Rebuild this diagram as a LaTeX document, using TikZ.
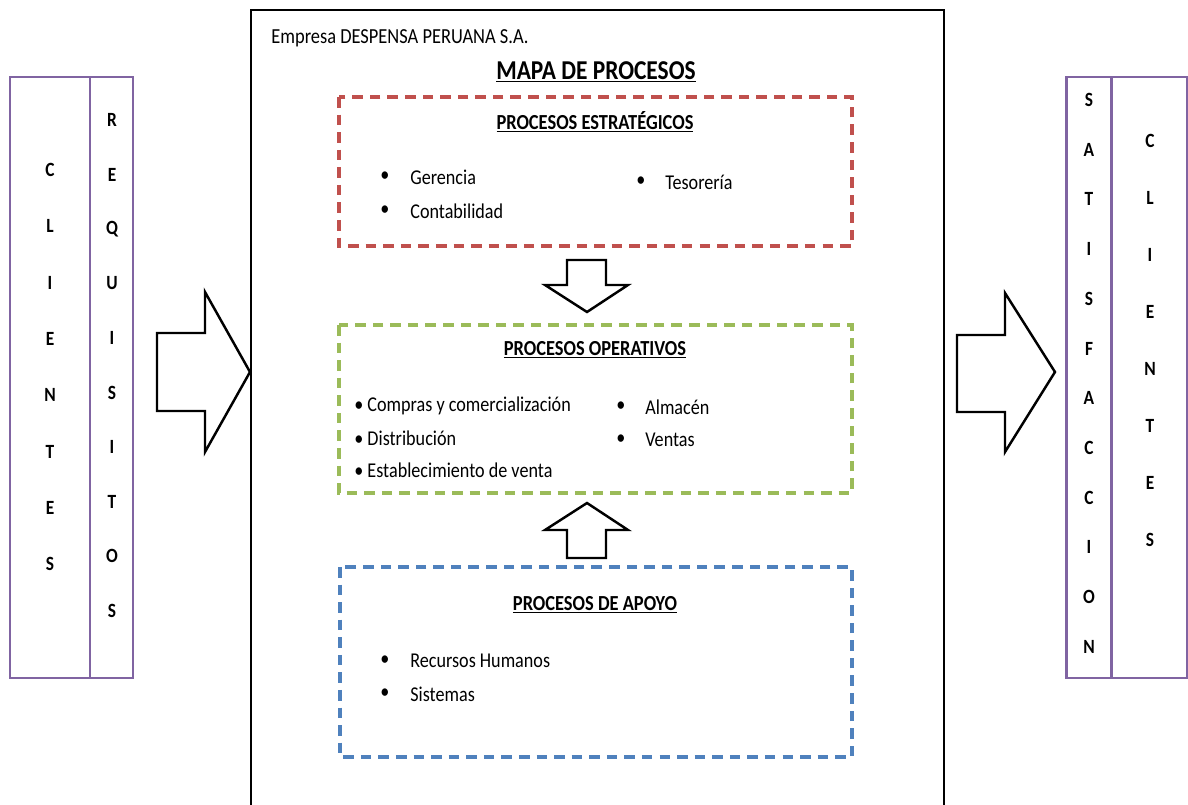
\documentclass[tikz,border=0pt]{standalone}
\usepackage{fontspec}
\setmainfont{Carlito}[FakeStretch=0.86]
\usetikzlibrary{calc}

\definecolor{lila}{HTML}{8064A2}
\definecolor{rojo}{HTML}{C0504D}
\definecolor{verde}{HTML}{9BBB59}
\definecolor{azul}{HTML}{4F81BD}

\tikzset{
	columna/.style={draw=lila, line width=1.7pt},
	letra/.style={font=\bfseries\fontsize{11.5}{13}\selectfont, inner sep=0pt},
	caja/.style={line width=2pt, dash pattern=on 6pt off 4pt},
	titulo/.style={font=\bfseries\fontsize{12.2}{15}\selectfont, inner sep=0pt},
	item/.style={anchor=west, font=\fontsize{12}{14}\selectfont, inner sep=0pt},
	punto/.style={font=\fontsize{12}{14}\selectfont, inner sep=0pt},
	flecha/.style={draw=black, line width=1.4pt, fill=white, line join=miter}
}

\begin{document}
\begin{tikzpicture}[x=0.02cm, y=-0.02cm]
			%%%%% START %%%%%
			\useasboundingbox (0, 0) rectangle (1188, 805);
			\clip (0, 0) rectangle (1188, 805);
			
			% columnas izquierda
			\draw[columna] (10, 77) rectangle (133, 678);
			\draw[columna] (90, 77) -- (90, 678);
			\foreach \l [count=\i] in {C,L,I,E,N,T,E,S}
				\node[letra] (cliI\i) at (50, {170+56.3*(\i-1)}) {\l};
			\foreach \l [count=\i] in {R,E,Q,U,I,S,I,T,O,S}
				\node[letra] (req\i) at (112, {120+54.5*(\i-1)}) {\l};
			
			% flecha entrada
			\draw[flecha] (157, 333) -- (205, 333) -- (205, 292) -- (250, 372)
				-- (205, 452) -- (205, 411) -- (157, 411) -- cycle;
			
			% marco principal
			\draw[line width=1.6pt] (251, 808) -- (251, 10) -- (944, 10) -- (944, 808);
			\node[anchor=west, inner sep=0pt, font=\fontsize{12.2}{14}\selectfont] (empresa) at (271, 38) {Empresa DESPENSA PERUANA S.A.};
			\node[inner sep=0pt, font=\bfseries\fontsize{15.5}{18}\selectfont] (mapa) at (596, 72) {\underline{MAPA DE PROCESOS}};
			
			% estrategicos
			\draw[caja, draw=rojo] (339, 97) rectangle (852, 246);
			\node[titulo] (estr) at (595, 122) {\underline{PROCESOS ESTRATÉGICOS}};
			\node[punto] (b1) at (385, 177) {\textbullet};
			\node[item] (ger) at (410, 177) {Gerencia};
			\node[punto] (b2) at (385, 211) {\textbullet};
			\node[item] (cont) at (410, 211) {Contabilidad};
			\node[punto] (b3) at (641, 182) {\textbullet};
			\node[item] (teso) at (665, 182) {Tesorería};
			
			\draw[flecha] (567, 260) -- (606, 260) -- (606, 285) -- (628, 285)
				-- (587, 312) -- (545, 285) -- (567, 285) -- cycle;
			
			% operativos
			\draw[caja, draw=verde] (339, 325) rectangle (852, 493);
			\node[titulo] (oper) at (595, 350) {\underline{PROCESOS OPERATIVOS}};
			\node[item] (comp) at (354, 406) {\textbullet\ Compras y comercialización};
			\node[item] (dist) at (354, 438) {\textbullet\ Distribución};
			\node[item] (esta) at (354, 470) {\textbullet\ Establecimiento de venta};
			\node[punto] (b4) at (621, 407) {\textbullet};
			\node[item] (alm) at (645, 407) {Almacén};
			\node[punto] (b5) at (621, 440) {\textbullet};
			\node[item] (vent) at (645, 440) {Ventas};
			
			\draw[flecha] (567, 558) -- (606, 558) -- (606, 530) -- (628, 530)
				-- (587, 503) -- (545, 530) -- (567, 530) -- cycle;
			
			% apoyo
			\draw[caja, draw=azul] (340, 567) rectangle (852, 757);
			\node[titulo] (apoyo) at (595, 605) {\underline{PROCESOS DE APOYO}};
			\node[punto] (b6) at (385, 661) {\textbullet};
			\node[item] (rrhh) at (410, 661) {Recursos Humanos};
			\node[punto] (b7) at (385, 694) {\textbullet};
			\node[item] (sist) at (410, 694) {Sistemas};
			
			% flecha salida
			\draw[flecha] (957, 335) -- (1005, 335) -- (1005, 293) -- (1055, 372)
				-- (1005, 452) -- (1005, 412) -- (957, 412) -- cycle;
			
			% columnas derecha
			\draw[columna] (1066, 77) rectangle (1187, 678);
			\draw[columna] (1111, 77) -- (1111, 678);
			\foreach \l [count=\i] in {S,A,T,I,S,F,A,C,C,I,O,N}
				\node[letra] (sat\i) at (1089, {100+49.7*(\i-1)}) {\l};
			\foreach \l [count=\i] in {C,L,I,E,N,T,E,S}
				\node[letra] (cliD\i) at (1150, {141+57*(\i-1)}) {\l};
			%%%%% END %%%%%
\end{tikzpicture}
\end{document}
